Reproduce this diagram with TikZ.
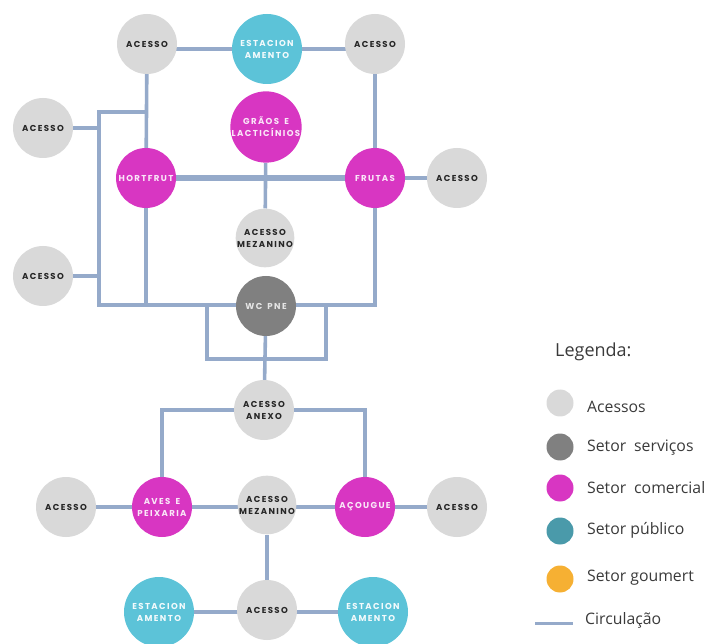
\documentclass[tikz,border=0pt]{standalone}
\usepackage{fontspec}
\setmainfont{Open Sans}
\newfontfamily\lblfont[LetterSpace=16,WordSpace=1.6]{Poppins}
\usetikzlibrary{backgrounds}
\definecolor{acc}{HTML}{D9D9D9}
\definecolor{serv}{HTML}{808080}
\definecolor{com}{HTML}{D836C2}
\definecolor{pub}{HTML}{5CC3D8}
\definecolor{publeg}{HTML}{4A9AAA}
\definecolor{gour}{HTML}{F6B033}
\definecolor{circ}{HTML}{95AACA}
\definecolor{legtxt}{HTML}{3A3A3A}
\tikzset{
  room/.style={circle, inner sep=0pt, minimum size=60pt, align=center,
    font=\lblfont\bfseries\fontsize{8.6}{12}\selectfont},
  acesso/.style={room, fill=acc, text=black!85},
  servico/.style={room, fill=serv, text=white!90!black},
  comercial/.style={room, fill=com, text=white!88!com},
  publico/.style={room, fill=pub, text=white!92!pub, minimum size=70pt},
  path/.style={draw=circ, line width=3.6pt},
  mainpath/.style={draw=circ, line width=5.5pt},
  legdot/.style={circle, inner sep=0pt, minimum size=27pt},
  legtext/.style={anchor=west, text=legtxt, font=\fontsize{15.8}{18}\selectfont, inner sep=0pt},
}
\begin{document}
\begin{tikzpicture}[x=1pt, y=-1pt]
\useasboundingbox (0,0) rectangle (710,644);

% upper block
\node[acesso]  (aT1)   at (147,44) {ACESSO};
\node[publico] (estT)  at (267,49) {ESTACION\\AMENTO};
\node[acesso]  (aT2)   at (375,44) {ACESSO};
\node[acesso]  (aL1)   at (43,128) {ACESSO};
\node[comercial, minimum size=66pt] (graos) at (266,127) {GRÃOS E\\LACTICÍNIOS};
\node[comercial] (hort)  at (146,178) {HORTFRUT};
\node[comercial] (frut)  at (375,178) {FRUTAS};
\node[acesso]  (aR1)   at (457,178) {ACESSO};
\node[acesso, minimum size=58pt] (mez1) at (265,238) {ACESSO\\MEZANINO};
\node[acesso]  (aL2)   at (43,276) {ACESSO};
\node[servico] (wc)    at (266,306) {WC PNE};

% lower block
\node[acesso]  (anexo) at (264,410) {ACESSO\\ANEXO};
\node[acesso]  (aL3)   at (66,507) {ACESSO};
\node[comercial] (aves) at (162,507) {AVES E\\PEIXARIA};
\node[acesso, minimum size=58pt] (mez2) at (267,505) {ACESSO\\MEZANINO};
\node[comercial] (acou) at (365,507) {AÇOUGUE};
\node[acesso]  (aR3)   at (457,507) {ACESSO};
\node[publico] (estL)  at (159,612) {ESTACION\\AMENTO};
\node[acesso]  (aB)    at (267,610) {ACESSO};
\node[publico] (estR)  at (373,612) {ESTACION\\AMENTO};

% junction points of the circulation
\coordinate (lt) at (99,112);
\coordinate (lb) at (99,305);
\coordinate (rb) at (375,305);
\coordinate (bl) at (207,359);
\coordinate (br) at (326,359);

\begin{scope}[on background layer]
  \draw[path] (aT1 |- estT) -- (estT) -- (aT2 |- estT);
  \draw[path] (aT1) -- (hort);
  \draw[path] (aT1 |- lt) -- (lt) -- (lb) -- (rb) -- (frut);
  \draw[path] (aT2) -- (frut);
  \draw[path] (aL1) -- (aL1 -| lt);
  \draw[path] (aL2) -- (aL2 -| lt);
  \draw[path] (hort) -- (hort |- lb);
  \draw[mainpath] (hort) -- (frut);
  \draw[path] (frut) -- (aR1);
  \draw[path] (graos) -- (mez1);
  \draw[path] (bl |- lb) -- (bl) -- (br) -- (br |- lb);
  \draw[path] (wc) -- (anexo);
  \draw[path] (anexo) -| (aves);
  \draw[path] (anexo) -| (acou);
  \draw[path] (aL3) -- (aves) -- (mez2 |- aves) -- (acou) -- (aR3);
  \draw[path] (mez2) -- (aB);
  \draw[path] (estL) -- (estL -| aB) -- (estR);
\end{scope}

% legend
\node[anchor=west, text=legtxt, font=\fontsize{18}{20}\selectfont, inner sep=0pt] (legtitle) at (555,352) {Legenda:};
\node[legdot, fill=acc]    (d1) at (560,403) {};
\node[legtext] (t1) at (587,407) {Acessos};
\node[legdot, fill=serv]   (d2) at (560,447) {};
\node[legtext] (t2) at (587,448) {Setor\hspace{0.5em}serviços};
\node[legdot, fill=com]    (d3) at (560,488) {};
\node[legtext] (t3) at (587,488) {Setor\hspace{0.5em}comercial};
\node[legdot, fill=publeg] (d4) at (560,531) {};
\node[legtext] (t4) at (587,530) {Setor público};
\node[legdot, fill=gour]   (d5) at (560,579) {};
\node[legtext] (t5) at (587,578) {Setor goumert};
\coordinate (c1) at (535,623);
\coordinate (c2) at (573,623);
\draw[draw=circ, line width=3pt] (c1) -- (c2);
\node[legtext] (t6) at (585,620) {Circulação};
\end{tikzpicture}
\end{document}
